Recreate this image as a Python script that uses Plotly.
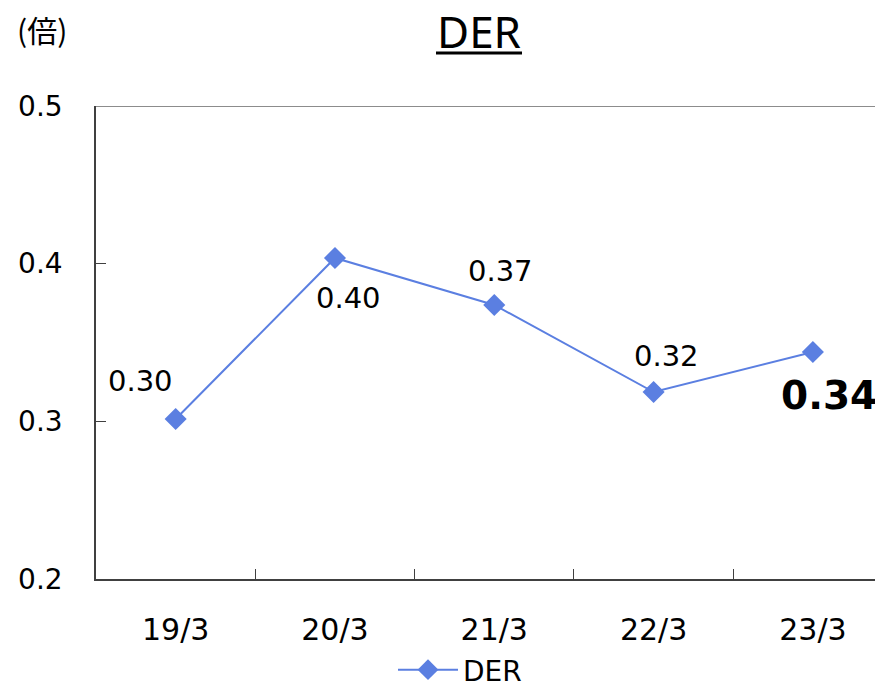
import plotly.graph_objects as go

categories = ["19/3", "20/3", "21/3", "22/3", "23/3"]
der_values = [0.3015, 0.4036, 0.3738, 0.3186, 0.344]
y_ticks = [0.2, 0.3, 0.4, 0.5]
series_name = "DER"
unit_label = "(倍)"

LINE_COLOR = "#5B7FE1"
FONT = "DejaVu Sans"

# page body has an 8px margin; figure is sized to fit the window
OFF = 8
W, H = 883 - OFF, 686 - OFF
# plot area in screen pixels
SL, SR, ST, SB = 96, 883, 106, 579
PL, PR, PT, PB = SL - OFF, SR - OFF, ST - OFF, SB - OFF
PW, PH = PR - PL, PB - PT


def px(sx):
    return (sx - OFF - PL) / PW


def py(sy):
    return (PB - (sy - OFF)) / PH


fig = go.Figure()
fig.add_trace(go.Scatter(
    x=categories, y=der_values, name=series_name, mode="lines+markers",
    line=dict(color=LINE_COLOR, width=2),
    marker=dict(symbol="diamond", size=17, color=LINE_COLOR),
))

# data labels, offsets in pixels relative to each point
offsets = [(-35, 38, False), (14, -40, False), (6, 34, False), (13, 36, False), (16, -44, True)]
for cat, v, (dx, dy, bold) in zip(categories, der_values, offsets):
    txt = f"{v:.2f}"
    fig.add_annotation(
        x=cat, y=v, text=f"<b>{txt}</b>" if bold else txt, showarrow=False,
        xshift=dx, yshift=dy,
        font=dict(family=FONT, size=39 if bold else 29, color="#000000"),
    )

fig.add_annotation(
    x=px(15), y=py(29), xref="paper", yref="paper", yanchor="middle", xanchor="left",
    text=unit_label, showarrow=False,
    font=dict(family="Noto Sans CJK JP", size=30, color="#000000"),
)

fig.update_layout(
    width=W, height=H,
    margin=dict(l=PL, r=W - PR, t=PT, b=H - PB, autoexpand=False),
    paper_bgcolor="white", plot_bgcolor="white",
    title=dict(text=series_name, xref="paper", yref="container", x=px(479), xanchor="center",
               y=(H - (33 - OFF)) / H, yanchor="middle",
               font=dict(family="Noto Sans", size=44, color="#000000")),
    showlegend=True,
    legend=dict(orientation="h", x=px(460), xanchor="center", y=py(670), yanchor="middle",
                font=dict(family=FONT, size=28, color="#000000"), itemwidth=60),
    shapes=[
        dict(type="line", xref="paper", yref="y", x0=0, x1=1, y0=0.5, y1=0.5,
             line=dict(color="#8C8C8C", width=2)),
        dict(type="line", xref="paper", yref="paper", x0=px(436), x1=px(522),
             y0=py(53), y1=py(53), line=dict(color="#000000", width=3)),
    ],
)

fig.update_xaxes(
    type="category", range=[-0.5, 4.44], tickson="boundaries", automargin=False,
    ticks="inside", ticklen=10, tickcolor="#404040", tickwidth=1,
    showline=True, linecolor="#404040", linewidth=1.5, showgrid=False,
    tickfont=dict(family=FONT, size=30, color="#000000"), ticklabelstandoff=23,
)
fig.update_yaxes(
    range=[0.2, 0.5], tickvals=y_ticks, ticktext=[f"{t:.1f}" for t in y_ticks],
    ticks="inside", ticklen=10, tickcolor="#404040", tickwidth=1, automargin=False,
    showline=True, linecolor="#404040", linewidth=1.5, showgrid=False, zeroline=False,
    tickfont=dict(family=FONT, size=28, color="#000000"), ticklabelstandoff=26,
)

fig.write_html("out.html")
